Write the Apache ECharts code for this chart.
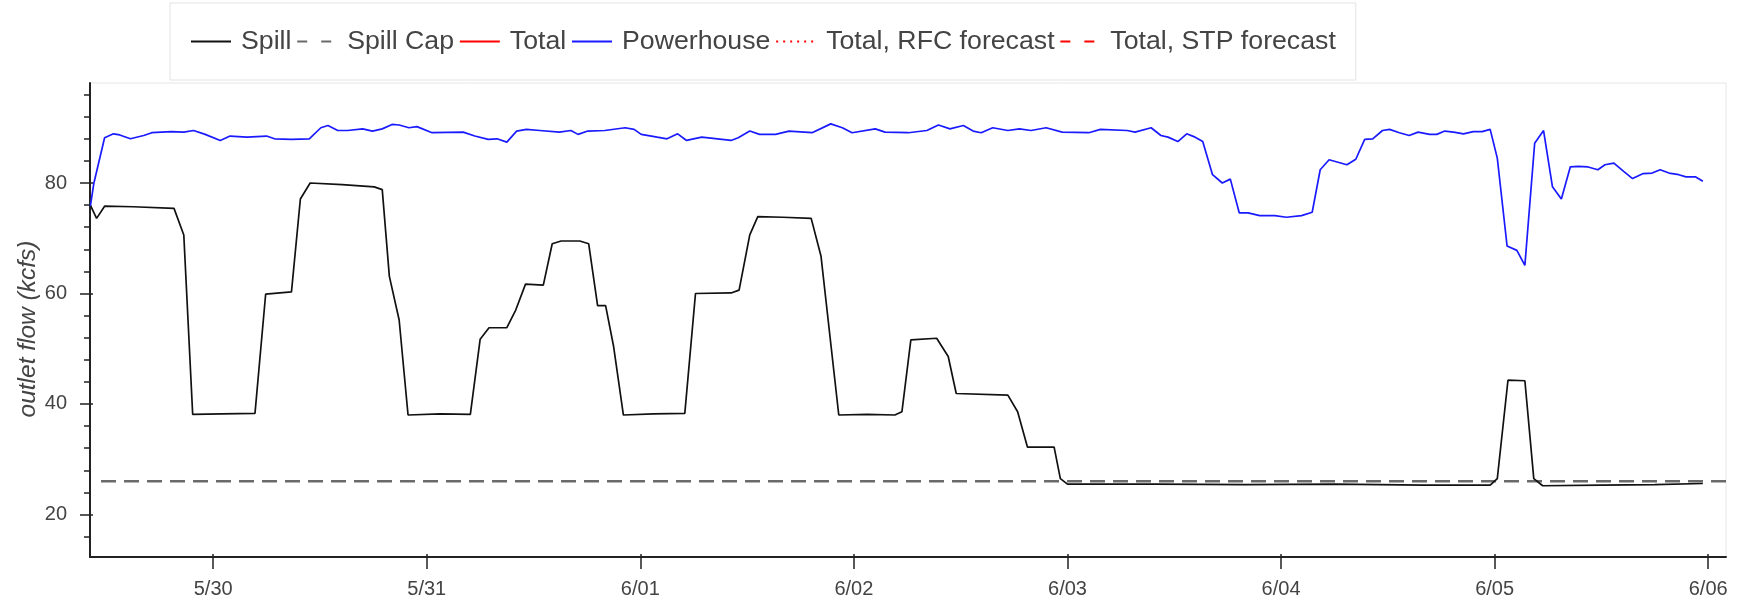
<!DOCTYPE html>
<html>
<head>
<meta charset="utf-8">
<script src="https://cdn.jsdelivr.net/npm/echarts@6/dist/echarts.min.js"></script>
<style>
html,body{margin:0;padding:0;background:#fff;}
#chart{width:1741px;height:601px;}
</style>
</head>
<body>
<div id="chart"></div>
<script>
// Time is expressed in hours since 5/29 00:00
const xTickHours = [24, 48, 72, 96, 120, 144, 168, 192];
const xTickLabels = ['5/30', '5/31', '6/01', '6/02', '6/03', '6/04', '6/05', '6/06'];
const yTickValues = [20, 40, 60, 80];
const yMinorTicks = [16, 24, 28, 32, 36, 44, 48, 52, 56, 64, 68, 72, 76, 84, 88, 92, 96];

const spillHours = [10.2, 10.9, 11.8, 15.0, 19.6, 20.7, 21.7, 25.0, 28.7, 29.9, 32.8, 33.8, 34.9, 38.5, 42.1, 43.0, 43.8, 44.9, 45.9, 49.5,
  52.9, 54.0, 55.0, 57.0, 58.0, 59.1, 61.1, 62.1, 63.1, 65.2, 66.2, 67.2, 68.1, 69.0, 70.1, 73.5, 77.0, 78.2, 82.2, 83.1,
  84.3, 85.2, 88.0, 91.2, 92.3, 94.3, 97.5, 100.6, 101.4, 102.4, 105.3, 106.6, 107.5, 113.3, 114.4, 115.5, 118.5, 119.2, 120.0, 130.0,
  140.0, 150.0, 160.0, 167.5, 168.3, 169.5, 171.4, 172.4, 173.4, 180.0, 186.0, 191.4];
const spillValues = [76.0, 73.6, 75.8, 75.7, 75.4, 70.6, 38.1, 38.2, 38.3, 59.9, 60.3, 77.1, 80.0, 79.7, 79.3, 78.8, 63.1, 55.2, 38.0, 38.2,
  38.1, 51.7, 53.8, 53.8, 57.0, 61.7, 61.5, 69.0, 69.5, 69.5, 69.0, 57.8, 57.8, 50.4, 38.0, 38.2, 38.3, 60.0, 60.1, 60.6,
  70.6, 73.9, 73.8, 73.6, 66.8, 38.0, 38.1, 38.0, 38.6, 51.6, 51.9, 48.6, 41.9, 41.6, 38.6, 32.2, 32.2, 26.5, 25.5, 25.5,
  25.4, 25.5, 25.3, 25.3, 26.5, 44.3, 44.2, 26.5, 25.2, 25.3, 25.4, 25.6];

const capHours = [11.4, 194.0];
const capValues = [26, 26];

const powerHours = [10.2, 10.6, 11.8, 12.8, 13.5, 14.7, 16.2, 17.1, 19.3, 20.7, 21.8, 23.1, 24.8, 25.9, 27.8, 30.0, 30.9, 32.8, 34.8, 36.1,
  36.9, 38.0, 39.1, 40.8, 41.9, 43.0, 44.1, 44.9, 46.0, 46.9, 48.6, 52.1, 53.4, 54.9, 55.9, 57.0, 58.1, 59.2, 60.7, 62.9,
  64.2, 65.0, 66.1, 68.0, 70.3, 71.3, 72.1, 73.9, 75.0, 76.2, 77.2, 78.9, 82.2, 83.0, 84.3, 85.4, 87.2, 88.7, 91.3, 93.4,
  94.7, 95.8, 98.4, 99.5, 102.1, 104.2, 105.5, 106.8, 108.3, 109.4, 110.3, 111.6, 113.3, 114.6, 115.9, 117.6, 119.4, 122.4, 123.7, 126.7,
  127.6, 129.4, 130.5, 131.3, 132.4, 133.4, 134.2, 135.2, 136.3, 137.4, 138.3, 139.3, 140.3, 141.6, 143.3, 144.6, 146.3, 147.5, 148.4, 149.4,
  151.4, 152.4, 153.4, 154.3, 155.4, 156.2, 157.3, 158.4, 159.4, 160.7, 161.5, 162.4, 163.4, 164.5, 165.6, 166.6, 167.5, 168.3, 169.4, 170.5,
  171.4, 172.5, 173.5, 174.5, 175.5, 176.5, 177.4, 178.5, 179.6, 180.4, 181.4, 182.5, 183.5, 184.7, 185.7, 186.6, 187.6, 188.7, 189.5, 190.6,
  191.4];
const powerValues = [75.8, 80.0, 88.2, 88.9, 88.7, 88.0, 88.6, 89.1, 89.3, 89.2, 89.5, 88.8, 87.7, 88.5, 88.3, 88.5, 88.0, 87.9, 88.0, 90.0,
  90.4, 89.5, 89.5, 89.8, 89.4, 89.8, 90.6, 90.5, 90.0, 90.2, 89.1, 89.2, 88.5, 87.9, 88.0, 87.4, 89.4, 89.7, 89.5, 89.2,
  89.5, 88.8, 89.4, 89.5, 90.0, 89.7, 88.8, 88.3, 88.0, 88.9, 87.7, 88.3, 87.7, 88.2, 89.4, 88.8, 88.8, 89.4, 89.1, 90.7,
  90.0, 89.1, 89.8, 89.2, 89.1, 89.5, 90.5, 89.8, 90.4, 89.4, 89.1, 90.0, 89.5, 89.8, 89.5, 90.0, 89.2, 89.1, 89.7, 89.5,
  89.2, 90.0, 88.6, 88.3, 87.5, 88.9, 88.4, 87.5, 81.5, 80.0, 80.7, 74.6, 74.6, 74.1, 74.1, 73.8, 74.1, 74.7, 82.4, 84.2,
  83.3, 84.3, 87.9, 88.0, 89.5, 89.7, 89.1, 88.6, 89.2, 88.8, 88.8, 89.4, 89.2, 88.9, 89.3, 89.3, 89.7, 84.5, 68.6, 67.8,
  65.1, 87.2, 89.5, 79.3, 77.1, 82.9, 83.0, 82.9, 82.4, 83.3, 83.6, 82.1, 80.8, 81.7, 81.8, 82.4, 81.8, 81.5, 81.1, 81.1,
  80.3];

const xMin = 10.16, xMax = 194.0;
const yMin = 12.3, yMax = 98.1;

function zip(a, b) { return a.map((v, i) => [v, b[i]]); }

const chart = echarts.init(document.getElementById('chart'), null, { renderer: 'canvas' });
const FONT = 'Liberation Sans, Arial, Helvetica, sans-serif';
const axisColor = '#222';

const option = {
  animation: false,
  backgroundColor: '#fff',
  grid: { left: 90, right: 15, top: 83, bottom: 44, show: true, borderColor: '#e6e6e6', borderWidth: 1, containLabel: false },
  legend: {
    left: 170, top: 3,
    orient: 'horizontal',
    itemWidth: 40, itemHeight: 14, itemGap: 4.8,
    padding: [25, 20, 25, 20],
    borderColor: '#e3e3e3', borderWidth: 1, backgroundColor: '#fff',
    selectedMode: false,
    itemStyle: { opacity: 0 },
    textStyle: { fontFamily: FONT, fontSize: 26.7, color: '#444', padding: [0, 0, 0, 5] },
    data: [
      { name: 'Spill' },
      { name: 'Spill Cap', lineStyle: { type: [10, 14] } },
      { name: 'Total' },
      { name: 'Powerhouse' },
      { name: 'Total, RFC forecast', lineStyle: { type: [2, 5] } },
      { name: 'Total, STP forecast', lineStyle: { type: [10, 14] } }
    ]
  },
  xAxis: [
    {
      type: 'value', min: xMin, max: xMax, position: 'bottom',
      axisLine: { show: true, onZero: false, lineStyle: { color: axisColor, width: 2 } },
      axisTick: { show: true, length: 12, customValues: xTickHours, lineStyle: { color: axisColor, width: 1.5 } },
      axisLabel: {
        show: true, customValues: xTickHours, margin: 22,
        fontFamily: FONT, fontSize: 20, color: '#444',
        formatter: function (v) { const i = xTickHours.indexOf(v); return i >= 0 ? xTickLabels[i] : ''; }
      },
      splitLine: { show: false }
    },
    {
      type: 'value', min: xMin, max: xMax, position: 'bottom', offset: 0,
      axisLine: { show: false },
      axisTick: { show: true, inside: true, length: 3, customValues: xTickHours, lineStyle: { color: axisColor, width: 1.5 } },
      axisLabel: { show: false },
      splitLine: { show: false }
    }
  ],
  yAxis: [
    {
      type: 'value', min: yMin, max: yMax, position: 'left',
      name: 'outlet flow (kcfs)', nameLocation: 'middle', nameGap: 49, nameMoveOverlap: false,
      nameTextStyle: { fontFamily: FONT, fontSize: 24.5, fontStyle: 'italic', color: '#444', padding: [0, 18, 0, 0] },
      axisLine: { show: true, onZero: false, lineStyle: { color: axisColor, width: 2 } },
      axisTick: { show: true, length: 10, customValues: yTickValues, lineStyle: { color: axisColor, width: 1.5 } },
      axisLabel: { show: true, customValues: yTickValues, margin: 23, fontFamily: FONT, fontSize: 20, color: '#444' },
      splitLine: { show: false }
    },
    {
      type: 'value', min: yMin, max: yMax, position: 'left', offset: 0,
      axisLine: { show: false },
      axisTick: { show: true, length: 6, customValues: yMinorTicks, lineStyle: { color: axisColor, width: 1.5 } },
      axisLabel: { show: false },
      splitLine: { show: false }
    },
    {
      type: 'value', min: yMin, max: yMax, position: 'left', offset: 0,
      axisLine: { show: false },
      axisTick: { show: true, inside: true, length: 3, customValues: yTickValues, lineStyle: { color: axisColor, width: 1.5 } },
      axisLabel: { show: false },
      splitLine: { show: false }
    }
  ],
  series: [
    {
      name: 'Spill', type: 'line', symbol: 'none', showSymbol: false,
      color: '#000', lineStyle: { color: '#111', width: 1.7 },
      data: zip(spillHours, spillValues), z: 3
    },
    {
      name: 'Spill Cap', type: 'line', symbol: 'none', showSymbol: false,
      color: '#666', lineStyle: { color: '#6a6a6a', width: 2.5, type: [15, 8] },
      data: zip(capHours, capValues), z: 2
    },
    {
      name: 'Total', type: 'line', symbol: 'none', showSymbol: false,
      color: '#ff0000', lineStyle: { color: '#ff0000', width: 2 }, data: []
    },
    {
      name: 'Powerhouse', type: 'line', symbol: 'none', showSymbol: false,
      color: '#0000ff', lineStyle: { color: '#1a1aff', width: 1.7 },
      data: zip(powerHours, powerValues), z: 3
    },
    {
      name: 'Total, RFC forecast', type: 'line', symbol: 'none', showSymbol: false,
      color: '#ff0000', lineStyle: { color: '#ff0000', width: 2, type: 'dotted' }, data: []
    },
    {
      name: 'Total, STP forecast', type: 'line', symbol: 'none', showSymbol: false,
      color: '#ff0000', lineStyle: { color: '#ff0000', width: 2, type: 'dashed' }, data: []
    }
  ]
};
chart.setOption(option);
</script>
</body>
</html>
